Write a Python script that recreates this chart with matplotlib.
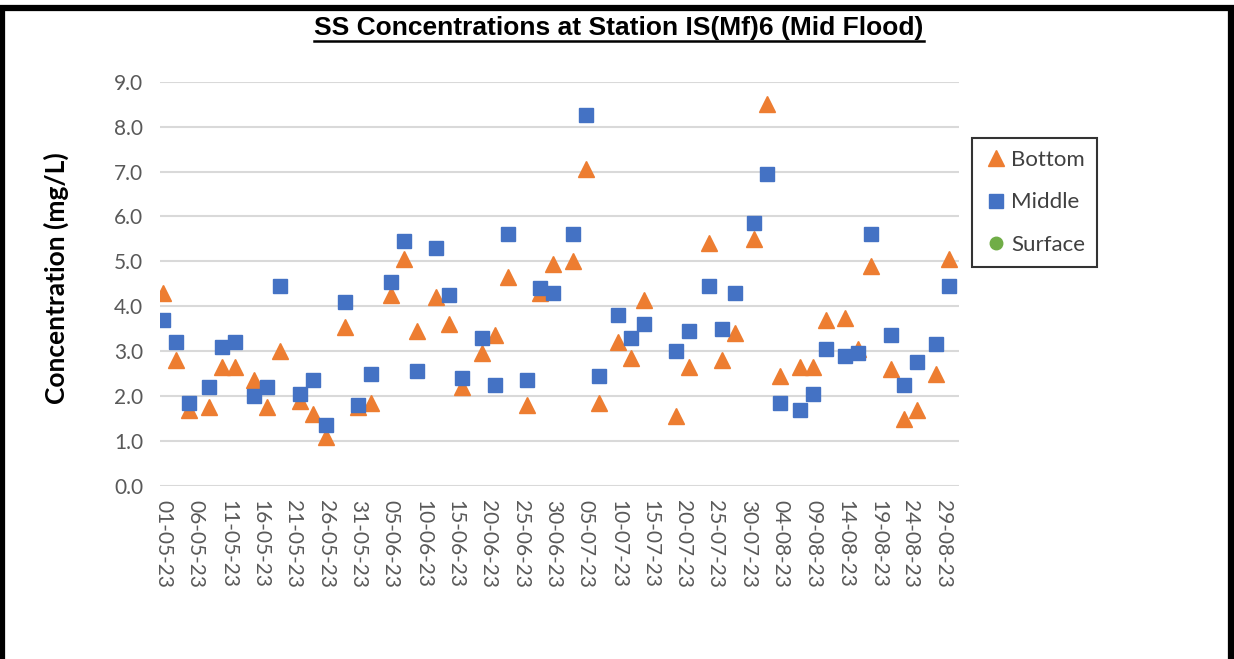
import matplotlib
matplotlib.use("Agg")
import matplotlib.pyplot as plt
import matplotlib.dates as mdates
from matplotlib.patches import Rectangle
from matplotlib.lines import Line2D
import pandas as pd

# sampling dates (dd-mm-yy on the chart)
dates = ["2023-05-01", "2023-05-03", "2023-05-05", "2023-05-08", "2023-05-10",
         "2023-05-12", "2023-05-15", "2023-05-17", "2023-05-19", "2023-05-22",
         "2023-05-24", "2023-05-26", "2023-05-29", "2023-05-31", "2023-06-02",
         "2023-06-05", "2023-06-07", "2023-06-09", "2023-06-12", "2023-06-14",
         "2023-06-16", "2023-06-19", "2023-06-21", "2023-06-23", "2023-06-26",
         "2023-06-28", "2023-06-30", "2023-07-03", "2023-07-05", "2023-07-07",
         "2023-07-10", "2023-07-12", "2023-07-14", "2023-07-19", "2023-07-21",
         "2023-07-24", "2023-07-26", "2023-07-28", "2023-07-31", "2023-08-02",
         "2023-08-04", "2023-08-07", "2023-08-09", "2023-08-11", "2023-08-14",
         "2023-08-16", "2023-08-18", "2023-08-21", "2023-08-23", "2023-08-25",
         "2023-08-28", "2023-08-30"]

bottom = [4.3, 2.8, 1.7, 1.75, 2.65, 2.65, 2.35, 1.75, 3.0, 1.9,
          1.6, 1.1, 3.55, 1.75, 1.85, 4.25, 5.05, 3.45, 4.2, 3.6,
          2.2, 2.95, 3.35, 4.65, 1.8, 4.3, 4.95, 5.0, 7.05, 1.85,
          3.2, 2.85, 4.15, 1.55, 2.65, 5.4, 2.8, 3.4, 5.5, 8.5,
          2.45, 2.65, 2.65, 3.7, 3.75, 3.05, 4.9, 2.6, 1.5, 1.7,
          2.5, 5.05]

middle = [3.7, 3.2, 1.85, 2.2, 3.1, 3.2, 2.0, 2.2, 4.45, 2.05,
          2.35, 1.35, 4.1, 1.8, 2.5, 4.55, 5.45, 2.55, 5.3, 4.25,
          2.4, 3.3, 2.25, 5.6, 2.35, 4.4, 4.3, 5.6, 8.25, 2.45,
          3.8, 3.3, 3.6, 3.0, 3.45, 4.45, 3.5, 4.3, 5.85, 6.95,
          1.85, 1.7, 2.05, 3.05, 2.9, 2.95, 5.6, 3.35, 2.25, 2.75,
          3.15, 4.45]

surface = []  # no surface readings for this station

start, end = "2023-05-01", "2023-08-31"

x = mdates.date2num(pd.to_datetime(dates))

fig = plt.figure(figsize=(12.34, 6.59), dpi=100)
ax = fig.add_axes([0.1297, 0.2625, 0.6475, 0.6136])

ax.plot(x, bottom, "^", color="#ED7D31", markersize=12, label="Bottom", zorder=3)
ax.plot(x, middle, "s", color="#4472C4", markersize=10.5, label="Middle", zorder=4)
ax.plot(mdates.date2num(pd.to_datetime(surface)) if surface else [], surface, "o",
        color="#70AD47", markersize=9, label="Surface")

ax.set_xlim(mdates.date2num(pd.Timestamp(start)) - 0.5,
            mdates.date2num(pd.Timestamp(end)) + 0.5)
ax.set_ylim(0, 9)
ax.set_yticks([i * 1.0 for i in range(10)])
ax.yaxis.set_major_formatter(plt.FormatStrFormatter("%.1f"))

ticks = mdates.date2num(pd.date_range(start, end, freq="5D"))
ax.set_xticks(ticks)
ax.xaxis.set_major_formatter(mdates.DateFormatter("%d-%m-%y"))

for s in ax.spines.values():
    s.set_visible(False)
ax.grid(axis="y", color="#D9D9D9", linewidth=1.5)
ax.set_axisbelow(True)
ax.tick_params(axis="both", length=0, colors="#595959", labelsize=15)
ax.tick_params(axis="y", pad=12)
ax.tick_params(axis="x", pad=10)
for lab in ax.get_xticklabels():
    lab.set_rotation(-90)
    lab.set_fontfamily("Lato")
for lab in ax.get_yticklabels():
    lab.set_fontfamily("Lato")

ax.set_ylabel("Concentration (mg/L)", fontsize=19, fontweight="bold", family="Lato")
ax.yaxis.set_label_coords(-0.114, 0.514)

title = fig.text(0.5016, 0.9575, "SS Concentrations at Station IS(Mf)6 (Mid Flood)",
                 ha="center", va="center", fontsize=19, fontweight="bold",
                 family="Liberation Sans")

leg = fig.legend(loc="upper left", bbox_to_anchor=(0.7877, 0.7906), borderaxespad=0,
                 frameon=True, fancybox=False, prop={"family": "Lato", "size": 16},
                 labelspacing=1.0, handletextpad=0.1, handlelength=1.1,
                 borderpad=0.55, labelcolor="#404040")
leg.get_frame().set_edgecolor("black")
leg.get_frame().set_linewidth(1.5)

# outer border (bottom edge is cut off in the original)
fig.patches.append(Rectangle((0.002, -0.05), 0.9952, 1.0379, transform=fig.transFigure,
                             fill=False, edgecolor="black", linewidth=4.5))

# underline the title
fig.canvas.draw()
bb = title.get_window_extent().transformed(fig.transFigure.inverted())
fig.lines.append(Line2D([bb.x0, bb.x1], [bb.y0 - 0.002, bb.y0 - 0.002],
                        transform=fig.transFigure, color="black", linewidth=1.8))

fig.savefig("out.png", dpi=100)
